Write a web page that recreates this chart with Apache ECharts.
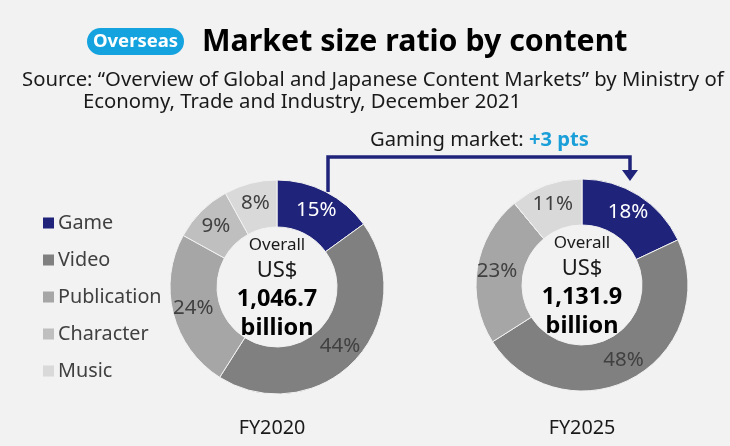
<!DOCTYPE html>
<html>
<head>
<meta charset="utf-8">
<script src="https://cdn.jsdelivr.net/npm/echarts@6/dist/echarts.min.js"></script>
<style>
  html, body { margin: 0; padding: 0; background: #f2f2f2; }
  #chart { width: 730px; height: 446px; }
</style>
</head>
<body>
<div id="chart"></div>
<script>
// Content categories, clockwise from 12 o'clock
const categories = ['Game', 'Video', 'Publication', 'Character', 'Music'];
const colors = ['#1f237a', '#808080', '#a6a6a6', '#bfbfbf', '#d9d9d9'];
// Share of overall market (%)
const shareFY2020 = [15, 44, 24, 9, 8];
const shareFY2025 = [18, 48, 23, 0, 11];
// Fiscal years and overall market size (US$ billion)
const years = ['FY2020', 'FY2025'];
const totals = [1046.7, 1131.9];
const gameChange = '+3 pts';

const FONT = '"Noto Sans", "Open Sans", sans-serif';

function fmtTotal(v) {
  return v.toLocaleString('en-US', { minimumFractionDigits: 1, maximumFractionDigits: 1 });
}

function pieSeries(values, center, radius) {
  return {
    type: 'pie',
    center: center,
    radius: radius,
    startAngle: 90,
    clockwise: true,
    avoidLabelOverlap: false,
    silent: true,
    itemStyle: { borderColor: '#f2f2f2', borderWidth: 1 },
    label: {
      show: true,
      position: 'inside',
      fontFamily: FONT,
      fontSize: 20.5,
      color: '#404040',
      formatter: p => (p.value > 0 ? p.value + '%' : '')
    },
    labelLine: { show: false },
    data: categories.map((c, i) => ({
      name: c,
      value: values[i],
      itemStyle: { color: colors[i] },
      label: i === 0 ? { color: '#ffffff' } : {}
    }))
  };
}

function centerText(x, y, total) {
  return {
    type: 'text',
    x: x,
    y: y,
    style: {
      text: '{a|Overall}\n{b|US$}\n{c|' + fmtTotal(total) + '}\n{c|billion}',
      align: 'center',
      verticalAlign: 'middle',
      rich: {
        a: { fontFamily: FONT, fontSize: 17, lineHeight: 24, fill: '#1a1a1a' },
        b: { fontFamily: FONT, fontSize: 22, lineHeight: 27, fill: '#1a1a1a' },
        c: { fontFamily: FONT, fontSize: 23.5, fontWeight: 'bold', lineHeight: 29, fill: '#000000' }
      }
    }
  };
}

const chart = echarts.init(document.getElementById('chart'), null, { renderer: 'canvas' });

chart.setOption({
  backgroundColor: '#f2f2f2',
  animation: false,
  legend: {
    orient: 'vertical',
    left: 36,
    top: 207,
    icon: 'rect',
    itemWidth: 13,
    itemHeight: 13,
    itemGap: 15,
    selectedMode: false,
    data: categories,
    textStyle: { fontFamily: FONT, fontSize: 19.8, color: '#404040', lineHeight: 22, padding: [0, 0, 0, -2] }
  },
  series: [
    pieSeries(shareFY2020, [277, 287], [60, 107]),
    pieSeries(shareFY2025, [582, 285], [60, 106])
  ],
  graphic: [
    // badge
    { type: 'rect', shape: { x: 87, y: 28, width: 97, height: 27, r: 13.5 }, style: { fill: '#15a3df' } },
    { type: 'text', x: 135.5, y: 41.5, style: { text: 'Overseas', fontFamily: FONT, fontSize: 18.5, fontWeight: 'bold', fill: '#ffffff', align: 'center', verticalAlign: 'middle' } },
    // title
    { type: 'text', x: 202, y: 42, style: { text: 'Market size ratio by content', fontFamily: FONT, fontSize: 30.3, fontWeight: 'bold', fill: '#000000', verticalAlign: 'middle' } },
    // source
    { type: 'text', x: 22, y: 80, style: { text: 'Source: \u201cOverview of Global and Japanese Content Markets\u201d by Ministry of', fontFamily: FONT, fontSize: 20.3, fill: '#1a1a1a', verticalAlign: 'middle' } },
    { type: 'text', x: 83, y: 102, style: { text: 'Economy, Trade and Industry, December 2021', fontFamily: FONT, fontSize: 20.3, fill: '#1a1a1a', verticalAlign: 'middle' } },
    // game market change connector
    { type: 'polyline', shape: { points: [[328, 192], [328, 157], [630, 157], [630, 171]] }, style: { stroke: '#1f237a', lineWidth: 3.5, fill: null } },
    { type: 'polygon', shape: { points: [[622, 170], [638, 170], [630, 181]] }, style: { fill: '#1f237a' } },
    { type: 'text', x: 370, y: 140, style: {
        text: '{n|Gaming market: }{h|' + gameChange + '}',
        verticalAlign: 'middle',
        rich: {
          n: { fontFamily: FONT, fontSize: 20.2, fill: '#1a1a1a' },
          h: { fontFamily: FONT, fontSize: 20.2, fontWeight: 'bold', fill: '#1a9fd9' }
        }
      } },
    // centre labels
    centerText(277, 288, totals[0]),
    centerText(582, 286, totals[1]),
    // year labels
    { type: 'text', x: 272, y: 428, style: { text: years[0], fontFamily: FONT, fontSize: 19.8, fill: '#1a1a1a', align: 'center', verticalAlign: 'middle' } },
    { type: 'text', x: 582, y: 428, style: { text: years[1], fontFamily: FONT, fontSize: 19.8, fill: '#1a1a1a', align: 'center', verticalAlign: 'middle' } }
  ]
});
</script>
</body>
</html>
